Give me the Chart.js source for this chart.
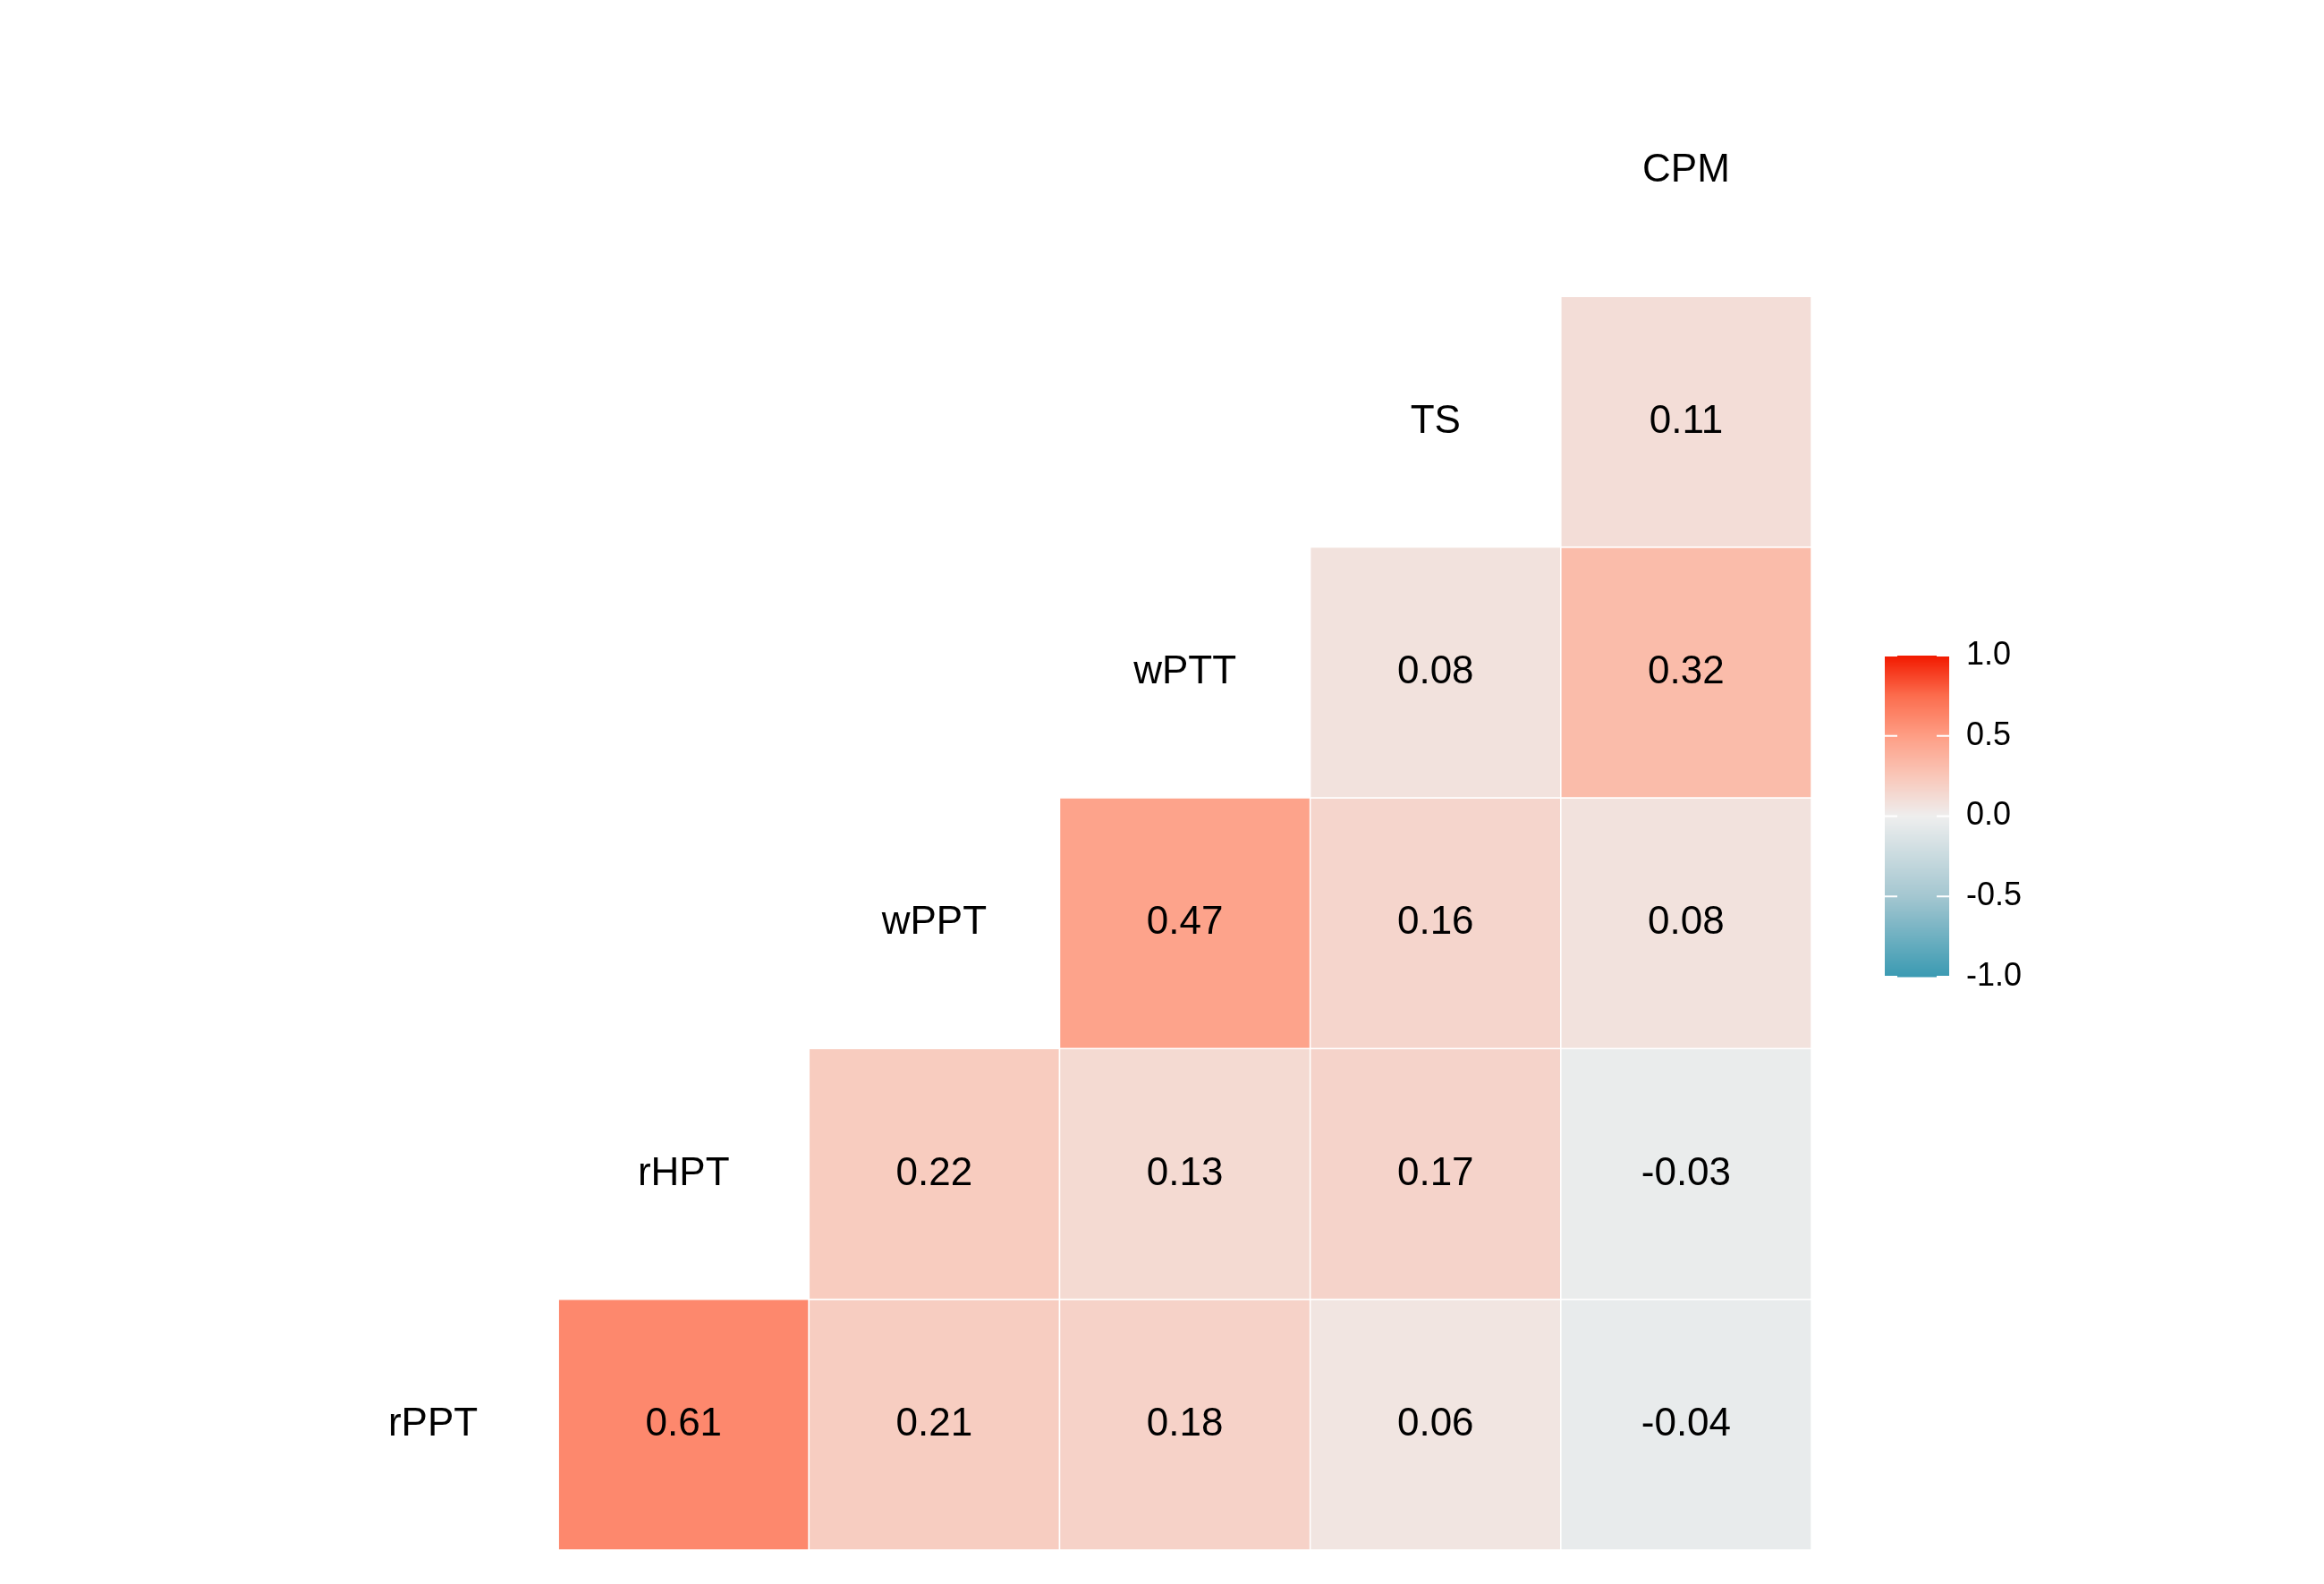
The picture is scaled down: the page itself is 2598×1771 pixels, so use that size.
<!DOCTYPE html>
<html>
<head>
<meta charset="utf-8">
<script src="https://cdn.jsdelivr.net/npm/chart.js@4"></script>
<style>
  html, body { margin: 0; padding: 0; background: #fff; }
  canvas { display: block; }
</style>
</head>
<body>
<canvas id="corr" width="2598" height="1771"></canvas>
<script>
// variables, bottom row / left column first
const variables = ['rPPT', 'rHPT', 'wPPT', 'wPTT', 'TS', 'CPM'];
// correlations of each row variable with the later columns
const rowRPPT = [0.61, 0.21, 0.18, 0.06, -0.04];
const rowRHPT = [0.22, 0.13, 0.17, -0.03];
const rowWPPT = [0.47, 0.16, 0.08];
const rowWPTT = [0.08, 0.32];
const rowTS = [0.11];
const legendTicks = [1.0, 0.5, 0.0, -0.5, -1.0];

const rows = [rowRPPT, rowRHPT, rowWPPT, rowWPTT, rowTS];

const stops = [
  [-1.0, [58, 154, 178]],
  [-0.5, [163, 198, 208]],
  [0.0, [238, 238, 238]],
  [0.25, [249, 199, 185]],
  [0.5, [254, 158, 133]],
  [0.75, [252, 109, 78]],
  [1.0, [242, 26, 0]]
];

function colorFor(v) {
  for (let k = 0; k < stops.length - 1; k++) {
    const [a, ca] = stops[k];
    const [b, cb] = stops[k + 1];
    if (v >= a && v <= b) {
      const t = (v - a) / (b - a);
      const c = ca.map((x, i) => Math.round(x + (cb[i] - x) * t));
      return `rgb(${c[0]},${c[1]},${c[2]})`;
    }
  }
  return '#eee';
}

const cells = [];
rows.forEach((vals, i) => {
  vals.forEach((v, k) => cells.push({ x: i + 1 + k, y: i, v: v }));
});

const FONT = '"Liberation Sans", Arial, sans-serif';

const heatmap = {
  id: 'heatmap',
  afterDatasetsDraw(chart) {
    const ctx = chart.ctx;
    const xs = chart.scales.x;
    const ys = chart.scales.y;
    ctx.save();
    cells.forEach(c => {
      const x0 = xs.getPixelForValue(c.x - 0.5);
      const x1 = xs.getPixelForValue(c.x + 0.5);
      const y0 = ys.getPixelForValue(c.y + 0.5);
      const y1 = ys.getPixelForValue(c.y - 0.5);
      ctx.fillStyle = colorFor(c.v);
      ctx.fillRect(x0, y0, x1 - x0, y1 - y0);
      ctx.strokeStyle = '#fff';
      ctx.lineWidth = 1.5;
      ctx.strokeRect(x0, y0, x1 - x0, y1 - y0);
    });
    ctx.fillStyle = '#000';
    ctx.textAlign = 'center';
    ctx.textBaseline = 'middle';
    ctx.font = '44px ' + FONT;
    cells.forEach(c => {
      ctx.fillText(c.v.toFixed(2), xs.getPixelForValue(c.x), ys.getPixelForValue(c.y));
    });
    variables.forEach((name, i) => {
      ctx.fillText(name, xs.getPixelForValue(i), ys.getPixelForValue(i));
    });

    // colour bar
    const bx = 2107, bw = 72, top = 733, bottom = 1092;
    for (let py = top; py < bottom; py++) {
      const v = 1 - 2 * (py - top) / (bottom - top);
      ctx.fillStyle = colorFor(v);
      ctx.fillRect(bx, py, bw, 1.5);
    }
    ctx.font = '36px ' + FONT;
    ctx.textAlign = 'left';
    legendTicks.forEach(t => {
      const py = top + (1 - t) / 2 * (bottom - top);
      ctx.strokeStyle = '#fff';
      ctx.lineWidth = 2;
      ctx.beginPath();
      ctx.moveTo(bx, py); ctx.lineTo(bx + 14, py);
      ctx.moveTo(bx + bw - 14, py); ctx.lineTo(bx + bw, py);
      ctx.stroke();
      ctx.fillStyle = '#000';
      ctx.fillText(t.toFixed(1), 2198, py);
    });
    ctx.restore();
  }
};

new Chart(document.getElementById('corr'), {
  type: 'scatter',
  data: { datasets: [{ data: cells, pointRadius: 0 }] },
  options: {
    responsive: false,
    animation: false,
    devicePixelRatio: 1,
    layout: { padding: { left: 344, right: 573, top: 51, bottom: 38 } },
    plugins: { legend: { display: false }, tooltip: { enabled: false } },
    scales: {
      x: { type: 'linear', min: -0.5, max: 5.5, display: false },
      y: { type: 'linear', min: -0.5, max: 5.5, display: false }
    }
  },
  plugins: [heatmap]
});
</script>
</body>
</html>
